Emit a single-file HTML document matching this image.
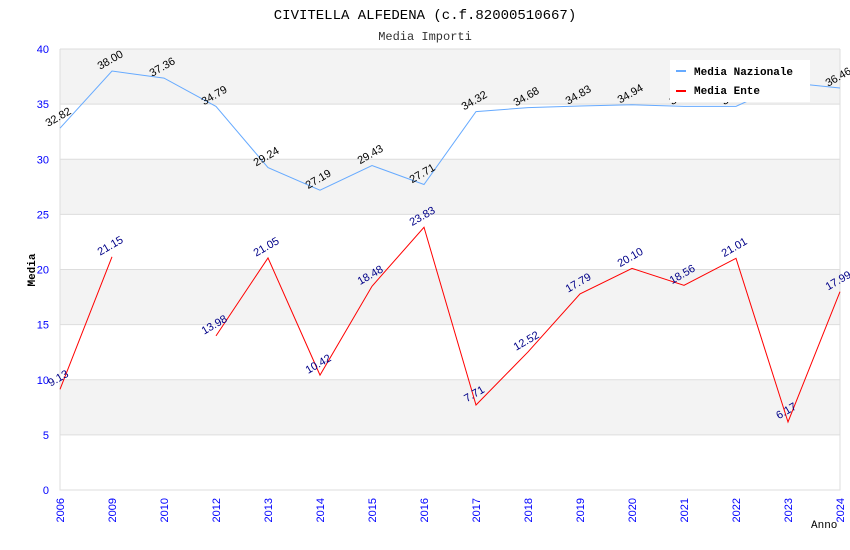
<!DOCTYPE html>
<html><head><meta charset="utf-8"><style>
body{margin:0;background:#fff;}
svg{display:block;}
</style></head><body>
<svg id="chart" width="850" height="550" xmlns="http://www.w3.org/2000/svg">
<text x="425" y="19" text-anchor="middle" font-family="Liberation Mono, monospace" font-size="14" fill="#000">CIVITELLA ALFEDENA (c.f.82000510667)</text>
<text x="425" y="40" text-anchor="middle" font-family="Liberation Mono, monospace" font-size="12" fill="#333">Media Importi</text>
<g id="bands"></g><g id="axes"></g><g id="series"></g><g id="labels"></g>
<g>
<rect x="670" y="60" width="140" height="42" fill="#fff"/>
<rect x="676" y="70" width="10" height="2" fill="#6af"/>
<text x="694" y="75" font-family="Liberation Mono, monospace" font-size="11" font-weight="bold">Media Nazionale</text>
<rect x="676" y="90" width="10" height="2" fill="#f00"/>
<text x="694" y="94" font-family="Liberation Mono, monospace" font-size="11" font-weight="bold">Media Ente</text>
</g>
<text x="35" y="270" transform="rotate(-90 35 270)" text-anchor="middle" font-family="Liberation Mono, monospace" font-size="11" font-weight="bold">Media</text>
<text x="811" y="528" font-family="Liberation Mono, monospace" font-size="11">Anno</text>
</svg>
<script>
const categories=["2006","2009","2010","2012","2013","2014","2015","2016","2017","2018","2019","2020","2021","2022","2023","2024"];
const nazionale=[32.82,38.00,37.36,34.79,29.24,27.19,29.43,27.71,34.32,34.68,34.83,34.94,34.80,34.80,36.95,36.46];
const ente=[9.13,21.15,null,13.98,21.05,10.42,18.48,23.83,7.71,12.52,17.79,20.10,18.56,21.01,6.17,17.99];
const yTicks=[0,5,10,15,20,25,30,35,40];
const L=60,R=840,T=49,B=490,ymax=40;
const NS="http://www.w3.org/2000/svg";
const xs=i=>L+i*(R-L)/(categories.length-1);
const ys=v=>B-v/ymax*(B-T);
function mk(tag,attrs,parent,txt){const e=document.createElementNS(NS,tag);for(const k in attrs)e.setAttribute(k,attrs[k]);if(txt!=null)e.textContent=txt;document.getElementById(parent).appendChild(e);return e;}
for(let i=0;i<yTicks.length-1;i++){
 const a=yTicks[i],b=yTicks[i+1];
 const r=mk('rect',{x:L,y:ys(b),width:R-L,height:ys(a)-ys(b),fill:i%2==1?'#f3f3f3':'#fff'},'bands');
 
 
}
yTicks.forEach(v=>{
 const l=mk('line',{x1:L,x2:R,y1:ys(v),y2:ys(v),stroke:'#ddd'},'axes');
 
 
 const t=mk('text',{x:L-11,y:ys(v)+4,'text-anchor':'end','font-family':'Liberation Sans, sans-serif','font-size':11,fill:'#00f'},'axes',String(v));
 
 
});
const ax=mk('path',{d:`M${L},${T}V${B}H${R}V${T}`,fill:'none',stroke:'#ddd'},'axes');


categories.forEach((c,i)=>{
 const x=xs(i)+4,y=B+8;
 const t=mk('text',{x:x,y:y,transform:`rotate(-90 ${x} ${y})`,'text-anchor':'end','font-family':'Liberation Sans, sans-serif','font-size':11,fill:'#00f'},'axes',c);
 
 
});
function draw(vals,color,lblColor,name){
 let d='',pen=false;
 vals.forEach((v,i)=>{if(v==null){pen=false;return;}d+=(pen?'L':'M')+xs(i)+','+ys(v);pen=true;});
 const p=mk('path',{d:d,fill:'none',stroke:color,'stroke-width':1},'series');
 
 
 vals.forEach((v,i)=>{if(v==null)return;
  const x=xs(i),y=ys(v)-8;
  const t=mk('text',{x:x,y:y,transform:`rotate(-30 ${x} ${y})`,'text-anchor':'middle','font-family':'Liberation Sans, sans-serif','font-size':11,fill:lblColor},'labels',v.toFixed(2));
  
  
 });
}
draw(nazionale,'#6af','#000','nazionale');
draw(ente,'#f00','#008','ente');
</script>
</body></html>
